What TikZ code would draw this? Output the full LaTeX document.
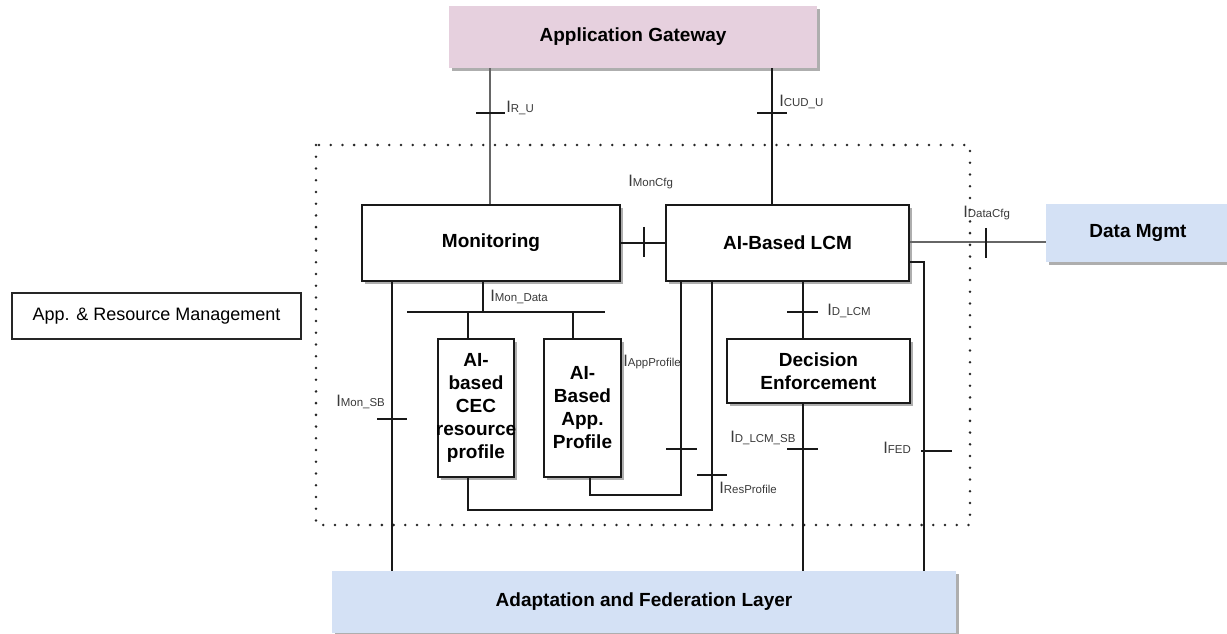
\documentclass[tikz,border=0pt]{standalone}
\usepackage{fontspec}
\setmainfont{Liberation Sans}
\usetikzlibrary{shadows}
\definecolor{agpink}{HTML}{E6D0DE}
\definecolor{lblue}{HTML}{D4E1F5}
\definecolor{lblgray}{HTML}{3A3A3A}
\definecolor{linegray}{HTML}{666666}
\newcommand{\ilab}[1]{{\fontsize{12.4}{12.4}\selectfont I}{\fontsize{8.6}{8.6}\selectfont #1}}
\tikzset{
  shad/.style={drop shadow={shadow xshift=2.4pt, shadow yshift=-2.4pt, fill=black!45, opacity=0.7}},
  box/.style={draw=black!90, line width=0.9pt, fill=white, shad, inner sep=0pt, align=center,
    font=\bfseries\fontsize{14.25}{17.25}\selectfont},
  colbox/.style={draw=none, shad, inner sep=0pt, align=center,
    font=\bfseries\fontsize{14.25}{17.25}\selectfont},
  conn/.style={line width=0.85pt, draw=black!90},
  gconn/.style={line width=1.1pt, draw=linegray},
  tick/.style={line width=0.85pt, draw=black!90},
  lbl/.style={anchor=base west, inner sep=0pt, text=lblgray},
  dotborder/.style={draw=black!85, line width=2.1pt, line cap=round, dash pattern=on 0pt off 8.8pt}
}
\begin{document}
\begin{tikzpicture}[x=0.75pt, y=-0.75pt]
\useasboundingbox (0,0) rectangle (1227,634);

% dotted border
\draw[dotborder] (316,145) rectangle (970,525);

% boxes
\node[colbox, fill=agpink, minimum width=276pt, minimum height=46.5pt] (gw) at (633,37) {Application Gateway};
\node[box, minimum width=193.5pt, minimum height=57pt] (mon) at (491,243) {Monitoring};
\node[box, minimum width=182.25pt, minimum height=57pt] (lcm) at (787.5,243) {AI-Based LCM};
\node[colbox, fill=lblue, minimum width=138pt, minimum height=43.5pt] (dm) at (1138,233) {Data Mgmt};
\node[box, minimum width=137.25pt, minimum height=48pt] (de) at (818.5,371) {Decision\\Enforcement};
\node[box, minimum width=57pt, minimum height=103.5pt] (cec) at (476,408) {AI-\\based\\CEC\\\makebox[0pt]{resource}\\profile};
\node[box, minimum width=57.75pt, minimum height=103.5pt] (app) at (582.5,408) {AI-\\Based\\App.\\Profile};
\node[colbox, fill=lblue, minimum width=468pt, minimum height=46.5pt] (afl) at (644,602) {Adaptation and Federation Layer};
\node[draw=black!85, line width=0.8pt, inner sep=0pt, minimum width=216.75pt, minimum height=34.5pt,
      font=\fontsize{13.5}{16}\selectfont] (arm) at (156.5,316) {App. \& Resource Management};

% connectors
\draw[gconn] (490,0 |- gw.south) -- (490,0 |- mon.north);
\draw[conn] (772,0 |- gw.south) -- (772,0 |- lcm.north);
\draw[conn] (mon.east) -- (lcm.west);
\draw[gconn] (lcm.east |- 0,242) -- (dm.west |- 0,242);
\draw[conn] (lcm.east |- 0,262) -| (924,0 |- afl.north);
\draw[conn] (803,0 |- lcm.south) -- (803,0 |- de.north);
\draw[conn] (803,0 |- de.south) -- (803,0 |- afl.north);
\draw[conn] (681,0 |- lcm.south) -- (681,495) -| (590,0 |- app.south);
\draw[conn] (712,0 |- lcm.south) -- (712,510) -| (468,0 |- cec.south);
\draw[conn] (392,0 |- mon.south) -- (392,0 |- afl.north);
\coordinate (busL) at (407,312);
\coordinate (busR) at (605,312);
\draw[conn] (483,0 |- mon.south) -- (483,0 |- busL);
\draw[conn] (busL) -- (busR);
\draw[conn] (468,0 |- busL) -- (468,0 |- cec.north);
\draw[conn] (573,0 |- busL) -- (573,0 |- app.north);

% ticks
\draw[tick] (476,113) -- (505,113);
\draw[tick] (757,113) -- (787,113);
\draw[tick] (644,227) -- (644,257);
\draw[tick] (986,228) -- (986,258);
\draw[tick] (921,451) -- (952,451);
\draw[tick] (787,312) -- (818,312);
\draw[tick] (787,449) -- (818,449);
\draw[tick] (666,449) -- (697,449);
\draw[tick] (697,475) -- (727,475);
\draw[tick] (377,419) -- (407,419);

% labels
\node[lbl] (lru) at (506,113) {\ilab{R\_U}};
\node[lbl] (lcud) at (779,107) {\ilab{CUD\_U}};
\node[lbl] (lmoncfg) at (628,187) {\ilab{MonCfg}};
\node[lbl] (ldatacfg) at (963,218) {\ilab{DataCfg}};
\node[lbl] (lfed) at (883,453) {\ilab{FED}};
\node[lbl] (ldlcm) at (827,316) {\ilab{D\_LCM}};
\node[lbl] (ldlcmsb) at (730,442) {\ilab{D\_LCM\_SB}};
\node[lbl] (lapp) at (623,366) {\ilab{AppProfile}};
\node[lbl] (lres) at (719,493) {\ilab{ResProfile}};
\node[lbl] (lmonsb) at (336,406) {\ilab{Mon\_SB}};
\node[lbl] (lmondata) at (490,302) {\ilab{Mon\_Data}};
\end{tikzpicture}
\end{document}
